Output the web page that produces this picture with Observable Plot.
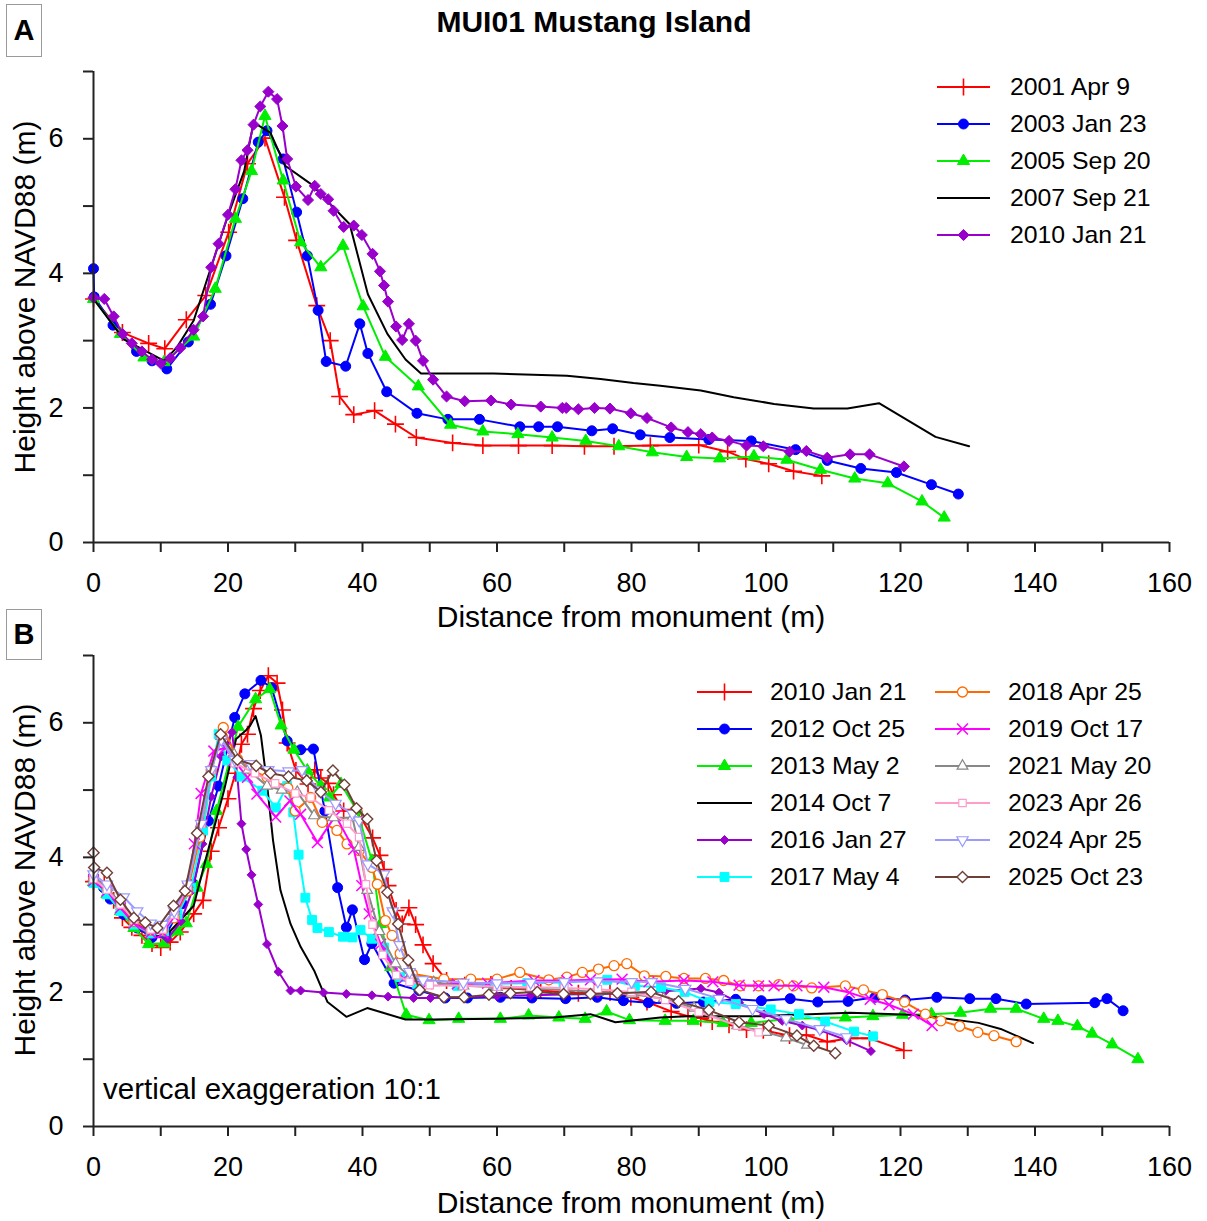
<!DOCTYPE html>
<html><head><meta charset="utf-8">
<script src="https://cdn.jsdelivr.net/npm/d3@7"></script>
<script src="https://cdn.jsdelivr.net/npm/@observablehq/plot@0.6"></script>
<style>
body{margin:0;background:#fff;}
#wrap{position:relative;width:1207px;height:1221px;overflow:hidden;font-family:"Liberation Sans",Arial,sans-serif;color:#000;}
.abs{position:absolute;white-space:nowrap;}
.plot{position:absolute;left:0;}
.lab{font-size:30px;line-height:32px;text-align:center;}
.box{border:1px solid #9a9a9a;font-weight:bold;font-size:29px;text-align:center;background:#fff;}
.leg{font-size:24.8px;line-height:30px;display:flex;align-items:center;}
.leg svg{display:block;}
</style></head>
<body><div id="wrap"></div>
<script>
// ---------- Data: panel A ----------
const aNames = ["2001 Apr 9", "2003 Jan 23", "2005 Sep 20", "2007 Sep 21", "2010 Jan 21"];
const a2001 = [[0,3.62],[4.3,3.12],[8.2,2.96],[10.6,2.88],[13.8,3.31],[16.7,3.67],[20.1,4.61],[22.9,5.63],[25.5,6.01],[28.4,5.13],[30.2,4.49],[33.2,3.52],[35.2,3.0],[36.6,2.17],[38.7,1.90],[41.8,1.96],[44.9,1.76],[48.0,1.56],[53.4,1.48],[57.9,1.44],[63.2,1.44],[68.2,1.44],[73.0,1.43],[77.4,1.43],[82.8,1.44],[90.0,1.45],[94.3,1.35],[97.0,1.24],[100.4,1.17],[104.1,1.06],[108.3,0.99]];
const a2003 = [[0,4.07],[0.1,3.65],[2.9,3.23],[6.4,2.84],[8.7,2.70],[10.9,2.58],[14.1,2.98],[17.4,3.54],[19.7,4.26],[22.2,5.11],[24.5,5.95],[25.8,6.12],[28.2,5.70],[30.2,4.91],[31.8,4.26],[33.4,3.45],[34.6,2.69],[37.5,2.62],[39.6,3.25],[40.8,2.81],[43.6,2.24],[48.1,1.92],[52.7,1.83],[57.4,1.83],[63.4,1.72],[66.2,1.72],[69.0,1.72],[74.1,1.66],[77.2,1.69],[81.3,1.60],[85.7,1.56],[91.5,1.53],[97.8,1.51],[104.4,1.38],[109.1,1.22],[114.1,1.10],[119.4,1.04],[124.6,0.86],[128.6,0.72]];
const a2005 = [[0,3.62],[4.0,3.1],[7.5,2.75],[10.5,2.68],[14.9,3.06],[18.1,3.77],[21.1,4.81],[23.5,5.52],[25.5,6.34],[28.2,5.38],[30.8,4.46],[33.8,4.09],[37.1,4.41],[40.1,3.51],[43.4,2.76],[48.3,2.32],[53.1,1.75],[57.9,1.65],[63.1,1.61],[68.2,1.56],[73.2,1.51],[78.1,1.43],[83.1,1.34],[88.2,1.27],[93.1,1.25],[98.2,1.28],[103.1,1.23],[108.1,1.08],[113.2,0.95],[118.1,0.88],[123.2,0.61],[126.5,0.37]];
const a2007 = [[0,3.62],[4.5,3.02],[10.5,2.70],[12.4,2.90],[14.9,3.30],[19.9,4.83],[22.4,5.52],[23.8,6.24],[26.3,6.09],[28.5,5.60],[32.3,5.33],[38.1,4.73],[40.8,3.69],[43.7,3.10],[46.4,2.72],[48.7,2.51],[59.5,2.51],[70.4,2.48],[75.4,2.43],[80.3,2.37],[84.3,2.33],[90.3,2.26],[95.2,2.16],[101.2,2.06],[107.1,1.99],[112.1,1.99],[116.8,2.07],[125.2,1.57],[130.2,1.43]];
const a2010 = [[0,3.64],[1.6,3.62],[3.0,3.36],[4.3,3.1],[5.7,2.96],[7.2,2.84],[8.7,2.72],[10.0,2.66],[11.4,2.74],[12.9,2.89],[14.9,3.16],[16.3,3.36],[17.5,4.09],[18.6,4.44],[20.0,4.87],[21.1,5.25],[22.0,5.68],[22.9,5.83],[23.8,6.21],[24.8,6.48],[26.0,6.70],[27.3,6.59],[28.1,6.19],[28.8,5.70],[30.1,5.29],[31.9,5.09],[32.9,5.30],[33.8,5.18],[34.9,5.10],[35.7,4.93],[37.2,4.69],[38.7,4.71],[39.9,4.57],[41.5,4.29],[42.6,4.03],[43.2,3.82],[43.8,3.58],[45.0,3.21],[45.9,3.01],[46.9,3.25],[47.9,3.0],[49.0,2.70],[50.5,2.42],[52.5,2.17],[55.2,2.10],[59.1,2.11],[62.1,2.05],[66.5,2.02],[69.7,2.0],[70.3,2.0],[72.1,1.98],[74.5,2.0],[76.8,1.99],[79.9,1.92],[82.3,1.85],[85.9,1.71],[88.4,1.64],[90.3,1.61],[92.0,1.56],[94.5,1.51],[97.1,1.44],[99.6,1.43],[103.5,1.35],[106.0,1.36],[109.1,1.26],[112.5,1.31],[115.4,1.31],[120.5,1.13]];

// ---------- Data: panel B ----------
const bNames = ["2010 Jan 21", "2012 Oct 25", "2013 May 2", "2014 Oct 7", "2016 Jan 27", "2017 May 4",
                "2018 Apr 25", "2019 Oct 17", "2021 May 20", "2023 Apr 26", "2024 Apr 25", "2025 Oct 23"];
const b2010 = a2010; // same survey as in panel A
const b2012 = [[0,3.72],[1.5,3.55],[2.5,3.38],[4.5,3.15],[6.5,2.95],[8.7,2.81],[10.8,2.85],[13.2,3.31],[14.9,3.60],[17.1,4.54],[18.6,5.06],[21.0,6.08],[22.5,6.43],[24.9,6.63],[26.5,6.52],[28.8,5.73],[30.8,5.60],[32.7,5.61],[34.4,4.69],[36.3,3.55],[37.6,2.96],[38.5,3.22],[40.3,2.48],[41.4,2.72],[44.7,2.13],[48.4,2.02],[52.3,1.91],[55.6,1.91],[60.5,1.92],[65.2,1.91],[70.2,1.90],[74.9,1.92],[78.8,1.87],[82.5,1.84],[86.7,1.83],[90.7,1.85],[95.5,1.89],[99.3,1.87],[103.6,1.90],[107.7,1.85],[112.2,1.86],[116.2,1.92],[120.7,1.88],[125.4,1.92],[130.3,1.90],[134.2,1.90],[138.7,1.82],[148.9,1.84],[150.7,1.90],[153.1,1.72]];
const b2013 = [[0,3.63],[2,3.45],[4,3.2],[6,2.95],[8.2,2.71],[10.5,2.72],[12.5,2.9],[13.8,3.02],[15.4,3.55],[16.8,3.90],[18.3,4.69],[21.5,5.94],[24.1,6.35],[26.2,6.50],[27.9,5.96],[29.8,5.6],[31.8,5.29],[33.8,5.06],[35.1,4.89],[36.8,5.09],[39.2,4.69],[41.4,3.95],[42.7,3.01],[44.2,2.37],[46.5,1.66],[49.9,1.58],[54.3,1.60],[60.5,1.60],[64.7,1.65],[69.2,1.62],[73.1,1.60],[76.3,1.71],[79.7,1.58],[85.0,1.57],[89.2,1.57],[93.6,1.54],[97.8,1.54],[103.4,1.60],[111.8,1.62],[115.9,1.64],[120.3,1.66],[124.6,1.67],[128.9,1.69],[133.4,1.75],[137.2,1.75],[141.3,1.60],[143.4,1.57],[146.3,1.49],[148.5,1.38],[151.5,1.22],[155.3,1.0]];
const b2014 = [[0,3.7],[4,3.2],[9.4,2.82],[11.3,2.89],[14.9,3.28],[16.5,3.90],[19.4,4.99],[21.2,5.76],[22.6,5.88],[23.3,5.96],[24.1,6.10],[24.9,5.81],[25.8,5.09],[26.7,4.25],[27.8,3.51],[29.3,3.01],[30.8,2.67],[32.8,2.32],[34.8,1.85],[37.6,1.63],[40.7,1.76],[46.4,1.59],[50.6,1.59],[59.5,1.60],[68.4,1.62],[73.9,1.67],[77.6,1.55],[84.3,1.62],[88.3,1.64],[99.2,1.64],[112.5,1.69],[121.5,1.66],[126.4,1.61],[131.6,1.54],[134.9,1.45],[139.7,1.24]];
const b2016 = [[0,3.68],[2,3.5],[4,3.22],[6,3.0],[8.5,2.84],[11,2.79],[13,3.05],[14.7,3.51],[16.2,4.2],[17.5,4.9],[19,5.5],[20.6,5.86],[21.4,5.19],[22.0,4.50],[22.7,4.12],[23.5,3.74],[24.5,3.30],[25.8,2.71],[27.5,2.3],[29.3,2.02],[30.8,2.02],[34.2,1.99],[37.6,1.97],[41.4,1.95],[43.8,1.93],[47.6,1.91],[50.1,1.91],[55,1.92],[60,1.94],[65,1.95],[70,1.96],[75,1.97],[80,1.98],[85,2.01],[90.3,2.05],[93.0,1.99],[96,1.84],[99.7,1.67],[102.4,1.57],[105.4,1.50],[108.1,1.43],[112.0,1.28],[115.6,1.12]];
const b2017 = [[0,3.62],[2,3.45],[4,3.2],[6,3.0],[8.5,2.87],[10.5,2.9],[12.5,3.15],[14.5,3.55],[16.3,4.4],[17.5,5.2],[18.6,5.83],[19.9,5.44],[22,5.2],[25.1,4.99],[27.1,4.74],[28.8,5.06],[29.7,4.67],[30.5,4.04],[31.5,3.40],[32.5,3.07],[33.3,2.95],[35.0,2.89],[37.1,2.82],[38.5,2.81],[39.7,2.92],[41.4,2.79],[43.2,2.66],[45.6,2.22],[48.1,2.12],[54.1,2.09],[59.5,2.12],[64.5,2.13],[69.9,2.14],[76.4,2.18],[80.5,2.09],[84.4,2.07],[87.9,2.0],[91.6,1.85],[95.5,1.82],[100.7,1.74],[104.9,1.67],[108.8,1.56],[113.1,1.41],[115.9,1.34]];
const b2018 = [[0,3.7],[2,3.55],[4,3.3],[6,3.05],[8.5,2.92],[10.3,2.92],[12,3.1],[14,3.5],[15.8,4.3],[17.5,5.3],[19.3,5.93],[21.4,5.46],[23.5,5.3],[25.8,5.19],[28.9,5.03],[30.0,4.69],[32.3,4.89],[34.0,4.52],[36.2,4.40],[37.7,4.20],[39.5,4.1],[41.4,3.85],[42.2,3.60],[43.4,3.06],[44.4,2.84],[45.6,2.57],[47.4,2.27],[52.1,2.19],[56.1,2.19],[60.0,2.19],[63.4,2.29],[67.7,2.18],[70.4,2.22],[72.7,2.29],[75.1,2.34],[77.4,2.39],[79.3,2.42],[81.9,2.24],[85.1,2.23],[87.8,2.20],[91.0,2.20],[93.7,2.17],[96.2,2.09],[98.9,2.09],[101.9,2.11],[104.1,2.09],[106.8,2.06],[111.8,2.09],[114.5,2.03],[117.3,1.96],[120.6,1.85],[123.7,1.67],[126.0,1.57],[128.8,1.49],[131.5,1.40],[133.9,1.35],[137.2,1.26]];
const b2019 = [[0,3.65],[2,3.5],[4,3.25],[6,3.02],[8.5,2.88],[10.3,2.88],[12,3.12],[14,3.55],[15,4.2],[16,4.95],[17.9,5.58],[19.6,5.63],[20.9,5.44],[22.9,5.19],[24.3,4.94],[27.1,4.60],[29.2,4.84],[30.8,4.64],[33.3,4.22],[36.0,4.62],[38.7,4.12],[39.9,3.58],[41.0,3.16],[42.7,2.71],[44.4,2.42],[46.1,2.19],[49.6,2.12],[54.1,2.12],[58.6,2.13],[65.5,2.17],[70.4,2.17],[73.9,2.18],[78.6,2.19],[82.6,2.15],[87.8,2.17],[92.1,2.15],[96.0,2.10],[98.9,2.09],[101.2,2.09],[104.6,2.09],[108.6,2.07],[112.4,1.99],[115.5,1.89],[118.3,1.81],[121.9,1.67],[124.7,1.50]];
const b2021 = [[0,3.7],[2,3.55],[4,3.32],[6,3.1],[8.5,2.95],[10.3,2.95],[12,3.2],[14,3.6],[16,4.5],[17.5,5.3],[19,5.8],[20.9,5.53],[23,5.3],[25.8,5.06],[28,5.0],[30.3,4.97],[32.8,4.62],[35.7,4.59],[38.5,4.59],[39.5,4.15],[40.7,3.51],[42.5,2.9],[44.9,2.42],[47.1,2.22],[50.6,2.14],[55,2.09],[60,2.07],[65,2.05],[70,2.03],[75,2.0],[80,1.97],[84.8,1.9],[89.3,1.76],[95.7,1.50],[100,1.40],[103,1.32],[106.1,1.21]];
const b2023 = [[0,3.68],[2,3.52],[4,3.3],[6,3.08],[8.5,2.93],[10.3,2.93],[12,3.15],[14,3.58],[16,4.5],[17.5,5.3],[19,5.78],[21,5.4],[24,5.25],[27,5.1],[30,4.95],[32.3,4.89],[35,4.7],[37.7,4.5],[39.5,4.3],[40.5,3.6],[41.5,3.0],[43,2.55],[45,2.25],[47,2.15],[50,2.1],[55,2.09],[60,2.08],[65,2.07],[70,2.06],[75,2.04],[80,2.0],[85,1.88],[90,1.7],[95.7,1.5],[98.9,1.40]];
const b2024 = [[0,3.75],[2,3.6],[4.5,3.41],[6.5,3.2],[8.5,3.02],[10.3,3.0],[12,3.2],[14,3.6],[16,4.5],[17.5,5.3],[19,5.75],[21,5.45],[23.3,5.39],[26,5.3],[29,5.28],[31,5.3],[33.5,5.0],[36,4.8],[38.5,4.65],[39.5,4.55],[40.8,3.9],[43.2,3.75],[44.5,3.2],[45.5,2.7],[47,2.3],[49,2.18],[55,2.14],[60,2.13],[65,2.14],[70,2.15],[75,2.16],[80,2.15],[83,2.15],[88,2.05],[93,1.9],[98,1.75],[103,1.6],[108,1.45],[112,1.33]];
const b2025 = [[0,4.07],[0.1,3.85],[2.0,3.77],[4.0,3.37],[6.0,3.10],[7.7,3.03],[9.5,2.95],[11.9,3.28],[13.6,3.50],[15.4,4.36],[17.1,5.20],[18.9,5.83],[21.4,5.45],[24.2,5.36],[26.3,5.25],[29.0,5.20],[31.7,5.14],[33.8,4.97],[35.6,5.29],[37.3,5.08],[39.1,4.73],[40.7,4.57],[42.1,3.95],[43.7,3.48],[45.3,3.01],[46.8,2.47],[48.5,2.03],[52.1,1.92],[55.1,1.92],[58.8,1.96],[62.0,1.98],[66.0,2.0],[69.9,1.97],[73.9,1.97],[77.9,1.98],[82.9,2.0],[87.0,1.86],[91.5,1.73],[96.0,1.55],[100.4,1.50],[104.6,1.35],[107.1,1.20],[110.3,1.09]];

// ---------- Axis ticks ----------
const xTicks = d3.range(0, 161, 10);
const yTicks = d3.range(0, 8, 1);

// ---------- Styles ----------
const triDown = {draw(ctx, size){ const s3 = Math.sqrt(3); const y = -Math.sqrt(size / (s3 * 3));
  ctx.moveTo(0, -y * 2); ctx.lineTo(-s3 * y, y); ctx.lineTo(s3 * y, y); ctx.closePath(); }};
const SYM = {plus: d3.symbolPlus, circle: d3.symbolCircle, triangle: d3.symbolTriangle, diamond: d3.symbolDiamond2,
             square: d3.symbolSquare, times: d3.symbolTimes, triDown: triDown, none: null};
const styleA = [
  {color:"#ff0000", sym:"plus", fill:"none", r:5.5, sw:1.6},
  {color:"#0000ff", sym:"circle", fill:"#0000ff", r:5, sw:1},
  {color:"#00ee00", sym:"triangle", fill:"#00ee00", r:4.5, sw:1},
  {color:"#000000", sym:"none"},
  {color:"#9900cc", sym:"diamond", fill:"#9900cc", r:5, sw:1}
];
const styleB = [
  {color:"#ff0000", sym:"plus", fill:"none", r:5.5, sw:1.6},
  {color:"#0000ff", sym:"circle", fill:"#0000ff", r:5, sw:1},
  {color:"#00ee00", sym:"triangle", fill:"#00ee00", r:4.5, sw:1},
  {color:"#000000", sym:"none"},
  {color:"#9900cc", sym:"diamond", fill:"#9900cc", r:4, sw:1},
  {color:"#00ffff", sym:"square", fill:"#00ffff", r:5, sw:1},
  {color:"#ff6a00", sym:"circle", fill:"white", r:5, sw:1.3},
  {color:"#ff00ff", sym:"times", fill:"none", r:5, sw:1.5},
  {color:"#888888", sym:"triangle", fill:"white", r:4, sw:1.2},
  {color:"#ff9ccc", sym:"square", fill:"white", r:4.2, sw:1.2},
  {color:"#9a9aff", sym:"triDown", fill:"white", r:4.2, sw:1.2},
  {color:"#6e4038", sym:"diamond", fill:"white", r:5, sw:1.4}
];

const wrap = document.getElementById("wrap");
const FONT = "'Liberation Sans', Arial, sans-serif";

function seriesMarks(series, styles) {
  const marks = [];
  series.forEach((data, i) => {
    const s = styles[i];
    marks.push(Plot.line(data, {x: d => d[0], y: d => d[1], stroke: s.color, strokeWidth: 2}));
    if (SYM[s.sym]) marks.push(Plot.dot(data, {x: d => d[0], y: d => d[1], symbol: SYM[s.sym], r: s.r,
      fill: s.fill, stroke: s.color, strokeWidth: s.sw}));
  });
  return marks;
}

function panel(series, styles, top, height, mTop, mBottom) {
  const svg = Plot.plot({
    width: 1207, height, marginLeft: 93, marginRight: 38, marginTop: mTop, marginBottom: mBottom,
    x: {domain: [0, 160]}, y: {domain: [0, 7]},
    style: {fontSize: "27px", fontFamily: FONT, background: "transparent", overflow: "visible", color: "#000"},
    marks: [
      ...seriesMarks(series, styles),
      Plot.axisX({ticks: xTicks, tickSize: 10, tickPadding: 20, tickFormat: d => d % 20 === 0 ? d : "",
        stroke: "#222", strokeWidth: 2, label: null}),
      Plot.axisY({ticks: yTicks, tickSize: 10, tickPadding: 20, tickFormat: d => d % 2 === 0 ? d : "",
        stroke: "#222", strokeWidth: 2, label: null}),
      Plot.ruleX([0], {stroke: "#222", strokeWidth: 2}),
      Plot.ruleY([0], {stroke: "#222", strokeWidth: 2})
    ]
  });
  svg.classList.add("plot");
  svg.style.top = top + "px";
  wrap.appendChild(svg);
}

panel([a2001, a2003, a2005, a2007, a2010], styleA, 0, 620, 71, 78);
panel([b2010, b2012, b2013, b2014, b2016, b2017, b2018, b2019, b2021, b2023, b2024, b2025], styleB, 620, 601, 35, 95);

function addDiv(cls, text, css) {
  const d = document.createElement("div");
  d.className = "abs " + cls; d.textContent = text; Object.assign(d.style, css); wrap.appendChild(d); return d;
}
// title + panel letters
addDiv("", "MUI01 Mustang Island", {left: "294px", width: "600px", top: "6px", fontSize: "30px", lineHeight: "32px", fontWeight: "bold", textAlign: "center"});
addDiv("box", "A", {left: "6px", top: "4px", width: "34px", height: "51px", lineHeight: "51px"});
addDiv("box", "B", {left: "6px", top: "609px", width: "34px", height: "49px", lineHeight: "49px"});
// axis titles
addDiv("lab", "Distance from monument (m)", {left: "331px", width: "600px", top: "601px"});
addDiv("lab", "Distance from monument (m)", {left: "331px", width: "600px", top: "1187px"});
addDiv("lab", "Height above NAVD88 (m)", {left: "-225px", width: "500px", top: "281px", transform: "rotate(-90deg)"});
addDiv("lab", "Height above NAVD88 (m)", {left: "-225px", width: "500px", top: "864px", transform: "rotate(-90deg)"});
addDiv("lab", "vertical exaggeration 10:1", {left: "103px", top: "1073px", textAlign: "left", fontSize: "29.5px"});

// legends
function legendItem(name, s, left, cy, swW, gap) {
  const d = document.createElement("div");
  d.className = "abs leg";
  Object.assign(d.style, {left: left + "px", top: (cy - 15) + "px"});
  const svg = d3.create("svg").attr("width", swW).attr("height", 30);
  svg.append("line").attr("x1", 0).attr("x2", swW).attr("y1", 15).attr("y2", 15).attr("stroke", s.color).attr("stroke-width", 2);
  if (SYM[s.sym]) svg.append("path").attr("transform", `translate(${swW / 2},15)`)
    .attr("d", d3.symbol(SYM[s.sym], Math.PI * s.r * s.r)()).attr("fill", s.fill).attr("stroke", s.color).attr("stroke-width", s.sw);
  d.appendChild(svg.node());
  const t = document.createElement("span"); t.textContent = name; t.style.marginLeft = gap + "px";
  d.appendChild(t);
  wrap.appendChild(d);
}
const legRowA = [87, 124, 161, 198, 235];
aNames.forEach((n, i) => legendItem(n, styleA[i], 937, legRowA[i], 53, 20));
const legRowB = [692, 729, 766, 803, 840, 877];
bNames.forEach((n, i) => legendItem(n, styleB[i], i < 6 ? 697 : 935, legRowB[i % 6], 55, 18));
</script></body></html>
